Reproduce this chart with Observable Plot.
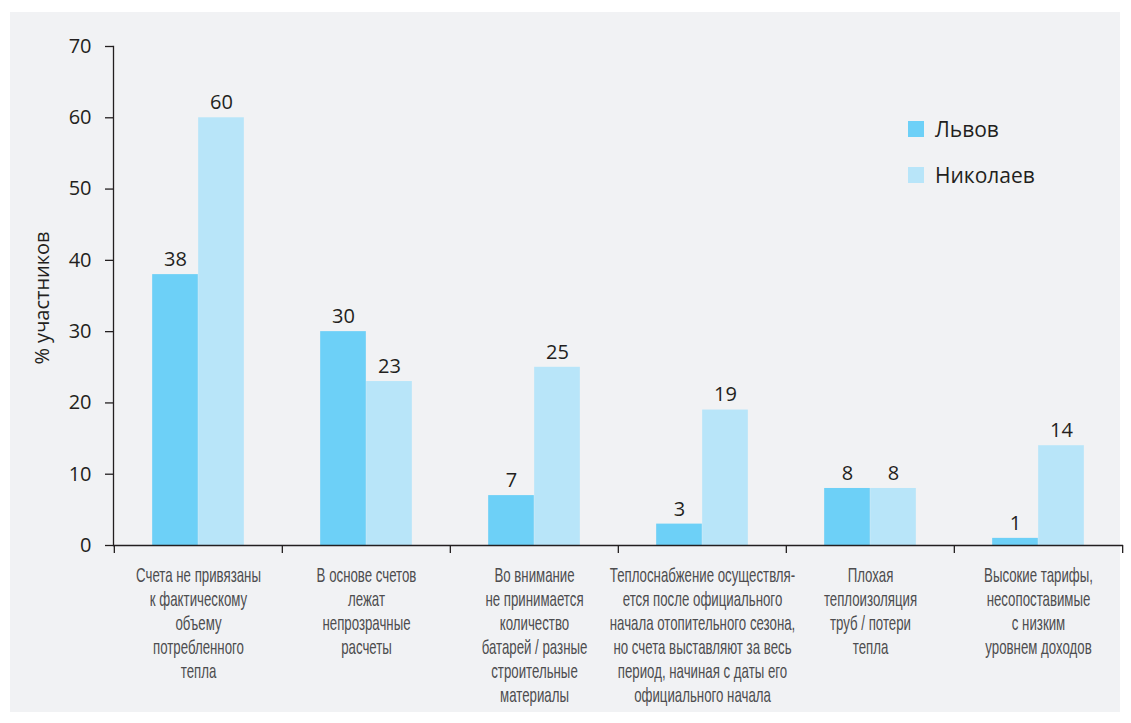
<!DOCTYPE html>
<html>
<head>
<meta charset="utf-8">
<script src="https://cdn.jsdelivr.net/npm/d3@7"></script>
<script src="https://cdn.jsdelivr.net/npm/@observablehq/plot@0.6"></script>
<style>
  html, body { margin: 0; padding: 0; background: #ffffff; }
  #wrap { position: relative; width: 1131px; height: 723px; overflow: hidden; }
  #panel { position: absolute; left: 10px; top: 12px; width: 1110px; height: 700px; background: #f1f2f4; }
  #chart { position: absolute; left: 0; top: 0; }
  #legend { position: absolute; left: 908px; top: 114px; font-family: "Open Sans", "Noto Sans", sans-serif; font-size: 21px; color: #231f20; }
  .item { display: flex; align-items: center; height: 30px; margin-bottom: 16px; }
  .sw { width: 16px; height: 16px; margin-right: 11px; }
  g[font-family*="Narrow"] text { font-stretch: condensed; }
</style>
</head>
<body>
<div id="wrap">
  <div id="panel"></div>
  <div id="chart"></div>
  <div id="legend"></div>
</div>
<script>
const categories = [
  "Счета не привязаны\nк фактическому\nобъему\nпотребленного\nтепла",
  "В основе счетов\nлежат\nнепрозрачные\nрасчеты",
  "Во внимание\nне принимается\nколичество\nбатарей / разные\nстроительные\nматериалы",
  "Теплоснабжение осуществля-\nется после официального\nначала отопительного сезона,\nно счета выставляют за весь\nпериод, начиная с даты его\nофициального начала",
  "Плохая\nтеплоизоляция\nтруб / потери\nтепла",
  "Высокие тарифы,\nнесопоставимые\nс низким\nуровнем доходов"
];
const seriesNames = ["Львов", "Николаев"];
const lvivValues = [38, 30, 7, 3, 8, 1];
const nikolaevValues = [60, 23, 25, 19, 8, 14];
const yTicks = [0, 10, 20, 30, 40, 50, 60, 70];
const colors = ["#6dd0f7", "#b8e5f9"];

const W = 1131, H = 723;
const mL = 113, mR = 8, mT = 46, mB = 178;
const bw = (W - mL - mR) / categories.length;
const barW = 46;

const lviv = categories.map((c, i) => ({cat: c, city: seriesNames[0], v: lvivValues[i]}));
const nik = categories.map((c, i) => ({cat: c, city: seriesNames[1], v: nikolaevValues[i]}));

const numFont = "'Open Sans', 'Noto Sans', sans-serif";
const condFont = "'Liberation Sans Narrow', 'Liberation Sans', Roboto, sans-serif";
const catFontSize = 20;

const plot = Plot.plot({
  width: W, height: H,
  marginLeft: mL, marginRight: mR, marginTop: mT, marginBottom: mB,
  style: {background: "transparent", fontFamily: numFont, color: "#231f20", overflow: "visible"},
  x: {type: "band", domain: categories, padding: 0, axis: null},
  y: {domain: [0, 70], axis: null},
  marks: [
    Plot.barY(lviv, {x: "cat", y: "v", fill: colors[0], insetLeft: bw / 2 - barW, insetRight: bw / 2}),
    Plot.barY(nik, {x: "cat", y: "v", fill: colors[1], insetLeft: bw / 2, insetRight: bw / 2 - barW}),
    Plot.text(lviv, {x: "cat", y: "v", text: d => String(d.v), dx: -barW / 2, dy: -15, fontSize: 20, fill: "#231f20"}),
    Plot.text(nik, {x: "cat", y: "v", text: d => String(d.v), dx: barW / 2, dy: -15, fontSize: 20, fill: "#231f20"}),
    Plot.axisY({ticks: yTicks, tickSize: 8, tickPadding: 14, fontSize: 20, label: null, stroke: "#231f20", strokeWidth: 1.3}),
    Plot.frame({anchor: "left", stroke: "#231f20", strokeWidth: 1.3}),
    Plot.ruleY([0], {stroke: "#231f20", strokeWidth: 1.3}),
    Plot.ruleX(categories, {x: d => d, y1: 0, y2: -1.12, dx: -bw / 2, stroke: "#231f20", strokeWidth: 1.3}),
    Plot.ruleX(categories.slice(-1), {x: d => d, y1: 0, y2: -1.12, dx: bw / 2, stroke: "#231f20", strokeWidth: 1.3}),
    Plot.text(categories, {x: d => d, y: 0, text: d => d, dy: 19, lineAnchor: "top", lineHeight: 24 / catFontSize, fontSize: catFontSize, fill: "#4d4d4f", fontFamily: condFont}),
    Plot.text(["% участников"], {frameAnchor: "left", textAnchor: "middle", rotate: -90, dx: -71, dy: 2, fontSize: 20, fill: "#231f20"})
  ]
});
document.getElementById("chart").appendChild(plot);

// Condense the category labels so that the first line matches the reference width (~125px)
const catGroup = plot.querySelector('g[font-family*="Narrow"]');
if (catGroup) {
  const probe = document.createElementNS("http://www.w3.org/2000/svg", "text");
  probe.setAttribute("font-size", catFontSize);
  probe.style.fontStretch = "condensed";
  probe.textContent = "Счета не привязаны";
  catGroup.appendChild(probe);
  const wMeasured = probe.getComputedTextLength();
  catGroup.removeChild(probe);
  const s = wMeasured > 0 ? Math.min(1, 125 / wMeasured) : 1;
  catGroup.querySelectorAll("text").forEach(t => {
    const tr = t.getAttribute("transform") || "";
    t.setAttribute("transform", tr + ` scale(${s},1)`);
  });
}

const legend = document.getElementById("legend");
seriesNames.forEach((s, i) => {
  const item = document.createElement("div");
  item.className = "item";
  const sw = document.createElement("span");
  sw.className = "sw";
  sw.style.background = colors[i];
  const t = document.createElement("span");
  t.textContent = s;
  item.appendChild(sw);
  item.appendChild(t);
  legend.appendChild(item);
});
</script>
</body>
</html>
